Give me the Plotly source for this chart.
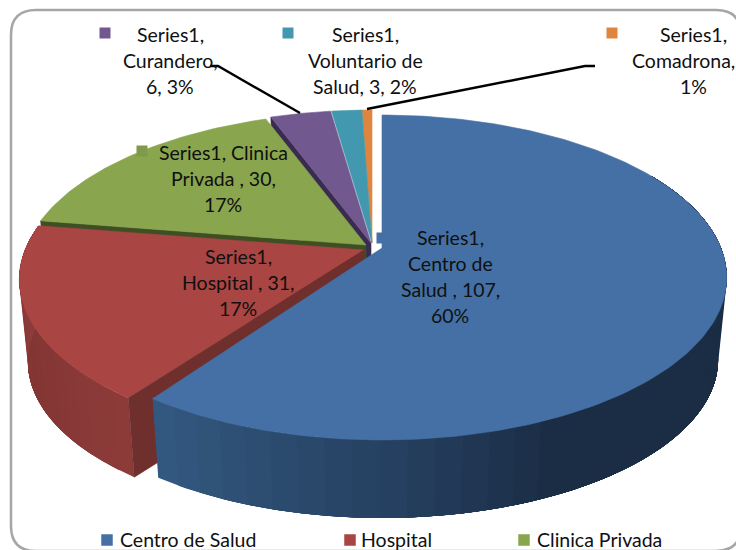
import math
import plotly.graph_objects as go

# ---- data ----
categories = ["Centro de Salud", "Hospital", "Clinica Privada", "Curandero", "Voluntario de Salud", "Comadrona"]
values = [107, 31, 30, 6, 3, 1]
label_lines = [
    ["Series1,", "Centro de", "Salud , 107,", "60%"],
    ["Series1,", "Hospital , 31,", "17%"],
    ["Series1, Clinica", "Privada , 30,", "17%"],
    ["Series1,", "Curandero,", "6, 3%"],
    ["Series1,", "Voluntario de", "Salud, 3, 2%"],
    ["Series1,", "Comadrona,", "1%"],
]
legend_names = categories[:3]

# ---- style ----
top_colors = ["#4470A5", "#A94543", "#89A54E", "#71588F", "#4198AF", "#DE863F"]
cut_colors = ["#2C4A70", "#6E2F2D", "#3F4F24", "#3A2C50", "#2A6070", "#8A5020"]
apex = [(382, 248), (364, 250), (366, 245), (371, 243), (372, 243), (372, 243)]
label_pos = [(450, 237), (238, 256), (223, 152), (170, 34), (365, 34), (693, 34)]
line_dx = {(5, 1): -10}
key_pos = [(382, 238), (165, 255), (142, 151), (105, 33), (288, 33), (612, 33)]
key_colors = ["#4470A5", "#A64744", "#7F9A48", "#71588F", "#4198AF", "#DE863F"]
legend_key_x = [107, 350, 524]
legend_text_x = [119, 360, 536]
R, RY, K = 339.0, 157.1, 0.1815
DEPTH, SHRINK = 82.8, 0.975
BLUE_TRIM = 1.2
FONT = "Lato"
FONT_SIZE = 19.5
TEXT = "#101010"


def top_pt(a, ang):
    u, v = math.sin(math.radians(ang)), math.cos(math.radians(ang))
    d = 1 + K * v
    return a[0] + R * u / d, a[1] - RY * v / d


def bot_pt(a, ang):
    u, v = math.sin(math.radians(ang)), math.cos(math.radians(ang))
    d = 1 + K * v
    return a[0] + SHRINK * R * u / d, a[1] + DEPTH - SHRINK * RY * v / d


def poly(fig, pts, color, lw=0.6):
    xs = [p[0] for p in pts] + [pts[0][0]]
    ys = [p[1] for p in pts] + [pts[0][1]]
    line = dict(color=color, width=lw)
    fig.add_trace(go.Scatter(x=xs, y=ys, mode="lines", fill="toself", fillcolor=color,
                             line=line, hoverinfo="skip", showlegend=False))


def mix(c1, c2, t):
    a = [int(c1[i:i + 2], 16) for i in (1, 3, 5)]
    b = [int(c2[i:i + 2], 16) for i in (1, 3, 5)]
    return "#%02x%02x%02x" % tuple(round(a[i] + (b[i] - a[i]) * t) for i in range(3))


def arc(a, start, end, fn, n=60):
    return [fn(a, start + (end - start) * i / n) for i in range(n + 1)]


def side(fig, a, s0, e0, n, color_at):
    # painted from one end to the other, each strip reaching under the next one
    for j in range(n):
        s = s0 + (e0 - s0) * j / n
        e = e0
        poly(fig, arc(a, s, e, top_pt, 60) + arc(a, e, s, bot_pt, 60), color_at(j / (n - 1)), lw=0)


total = sum(values)
angles = [0.0]
for val in values:
    angles.append(angles[-1] + val / total * 360)

fig = go.Figure()

# back cut faces, seen through the gaps between the slices
for i in (3, 2):
    s = angles[i]
    a = apex[i]
    poly(fig, [top_pt(a, s), a, (a[0], a[1] + DEPTH), bot_pt(a, s)], cut_colors[i])

# top faces of the back slices
for i in (5, 4, 3, 2):
    a = apex[i]
    poly(fig, [a] + arc(a, angles[i], angles[i + 1], top_pt), top_colors[i])

# hospital outer side
a = apex[1]
side(fig, a, angles[1], angles[2], 20,
     lambda t: mix("#8C3B39", "#823533", t * 2) if t < .5 else mix("#823533", "#913F3D", (t - .5) * 2))
# hospital top and its cut face
poly(fig, [a] + arc(a, angles[1], angles[2], top_pt), top_colors[1])
s = angles[1]
poly(fig, [top_pt(a, s), a, (a[0], a[1] + DEPTH), bot_pt(a, s)], cut_colors[1])

# blue outer side, shaded from left to right
a = apex[0]
blue_end = angles[1] - BLUE_TRIM
side(fig, a, blue_end, 60.0, 40,
     lambda t: mix("#33587F", "#254060", t / .23) if t < .23 else mix("#254060", "#1B2D45", min(1, (t - .23) / .15)))
poly(fig, [a] + arc(a, angles[0], blue_end, top_pt, 200), top_colors[0])

# leader lines
for lx, ly in ([210, 218, 300], [66, 66, 113]), ([595, 585, 367], [66, 66, 109]):
    fig.add_trace(go.Scatter(x=lx, y=ly, mode="lines", line=dict(color="#000000", width=2.4),
                             hoverinfo="skip", showlegend=False))

# label keys
fig.add_trace(go.Scatter(x=[p[0] for p in key_pos], y=[p[1] for p in key_pos], mode="markers",
                         marker=dict(symbol="square", size=11, color=key_colors, line=dict(width=0)),
                         hoverinfo="skip", showlegend=False))
# legend keys
fig.add_trace(go.Scatter(x=legend_key_x, y=[540] * 3, mode="markers",
                         marker=dict(symbol="square", size=11.5, color=top_colors[:3], line=dict(width=0)),
                         hoverinfo="skip", showlegend=False))

annotations = []
for k, (lines, (lx, ly)) in enumerate(zip(label_lines, label_pos)):
    for i, line in enumerate(lines):
        annotations.append(dict(x=lx + line_dx.get((k, i), 0), y=ly + i * 26.3, text=line, showarrow=False,
                                xanchor="center", yanchor="middle",
                                font=dict(family=FONT, size=FONT_SIZE, color=TEXT)))
for name, lx in zip(legend_names, legend_text_x):
    annotations.append(dict(x=lx, y=539, text=name, showarrow=False, xanchor="left", yanchor="middle",
                            xshift=-1, font=dict(family=FONT, size=FONT_SIZE, color=TEXT)))

frame = "M36,10 L716,10 Q741,10 741,35 L741,526 Q741,551 716,551 L36,551 Q11,551 11,526 L11,35 Q11,10 36,10 Z"
fig.update_layout(
    width=736, height=550, margin=dict(l=0, r=0, t=0, b=0), paper_bgcolor="white", plot_bgcolor="white",
    showlegend=False, annotations=annotations,
    xaxis=dict(range=[0, 736], visible=False, fixedrange=True),
    yaxis=dict(range=[550, 0], visible=False, fixedrange=True),
    shapes=[dict(type="path", path=frame, line=dict(color="#A6A6A6", width=2.5), layer="below")],
)
fig.write_html("out.html", config=dict(displayModeBar=False),
               post_script="document.body.style.margin='0';document.body.style.overflow='hidden';")
